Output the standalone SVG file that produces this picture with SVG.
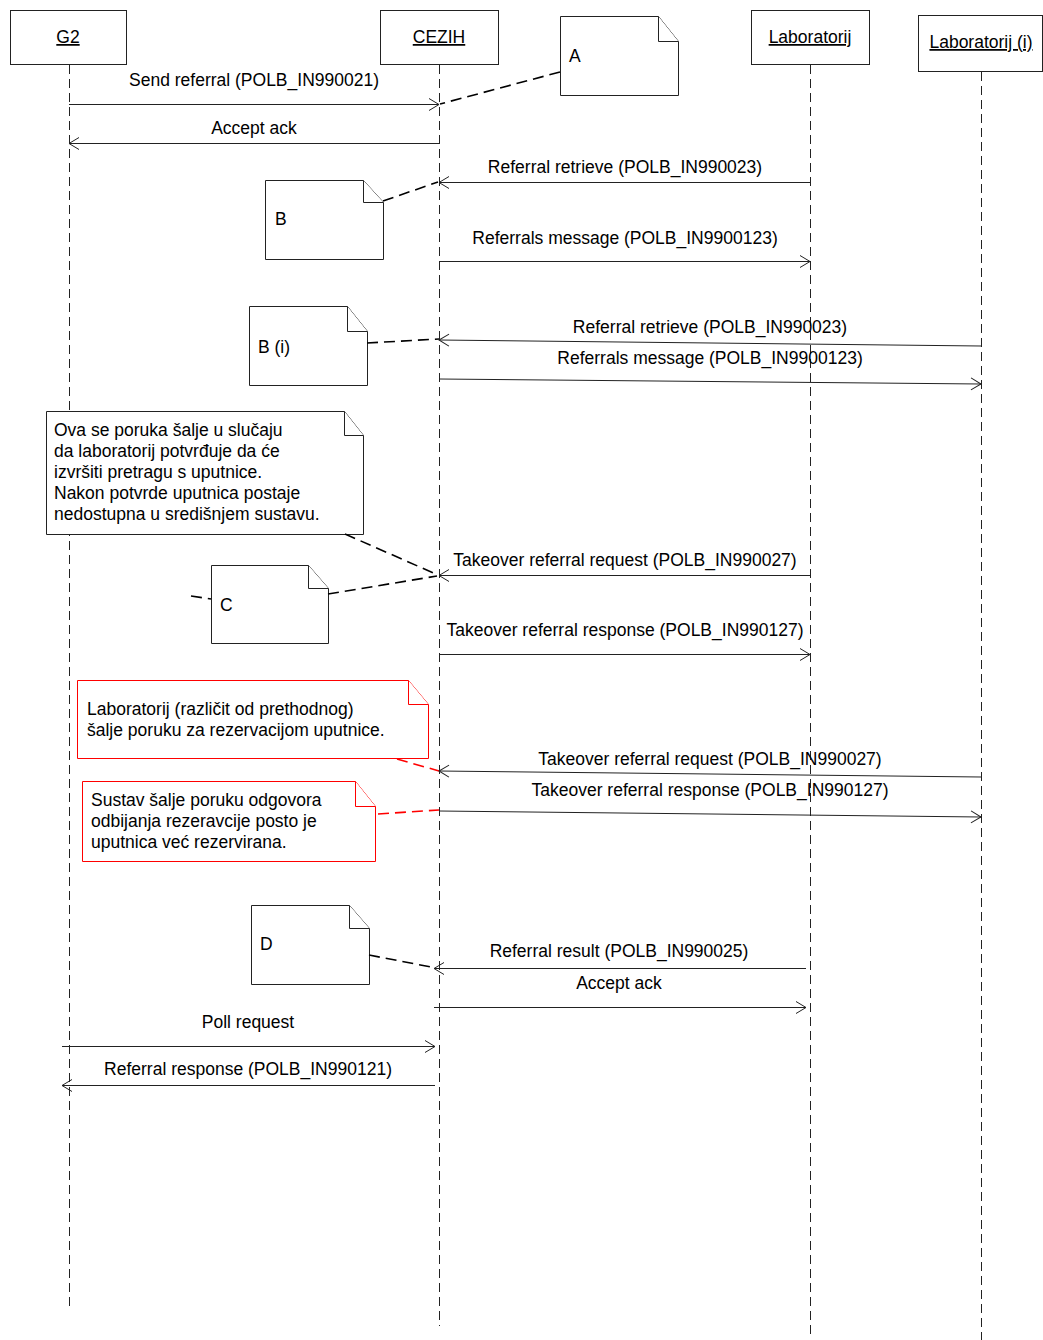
<svg xmlns="http://www.w3.org/2000/svg" width="1043" height="1340" viewBox="0 0 1043 1340">
<defs>
<style>
text{font-family:"Liberation Sans",Arial,sans-serif;font-size:17.5px;fill:#000}
.c{text-anchor:middle}
.u{text-decoration:underline}
.box{fill:#fff;stroke:#222;stroke-width:1}
.note{fill:#fff;stroke:#222;stroke-width:1}
.rnote{fill:#fff;stroke:#f00;stroke-width:1}
.life{stroke:#222;stroke-width:1;stroke-dasharray:9 5;fill:none}
.msg{stroke:#222;stroke-width:1;fill:none;marker-end:url(#ah)}
.link{stroke:#000;stroke-width:1.6;stroke-dasharray:11 6;fill:none}
.rlink{stroke:#f00;stroke-width:1.6;stroke-dasharray:11 6;fill:none}
</style>
<marker id="ah" viewBox="-11 -7 12 14" refX="0" refY="0" markerWidth="12" markerHeight="14" markerUnits="userSpaceOnUse" orient="auto">
<path d="M-10,-6 L0,0 L-10,6" fill="none" stroke="#222" stroke-width="1"/>
</marker>
</defs>
<rect width="1043" height="1340" fill="#fff"/>

<g id="lifelines">
<line class="life" x1="69.5" y1="65" x2="69.5" y2="1306"/>
<line class="life" x1="439.5" y1="65" x2="439.5" y2="1326"/>
<line class="life" x1="810.5" y1="65" x2="810.5" y2="1338"/>
<line class="life" x1="981.5" y1="72" x2="981.5" y2="1340"/>
</g>

<g id="G2"><rect class="box" x="10.5" y="10.5" width="116" height="54"/><text class="c u" x="68" y="43">G2</text></g>
<g id="CEZIH"><rect class="box" x="380.5" y="10.5" width="118" height="54"/><text class="c u" x="439" y="43">CEZIH</text></g>
<g id="Laboratorij"><rect class="box" x="751.5" y="10.5" width="118" height="54"/><text class="c u" x="810" y="43">Laboratorij</text></g>
<g id="Laboratorij_i"><rect class="box" x="918.5" y="15.5" width="124" height="56"/><text class="c u" x="981" y="48">Laboratorij (i)</text></g>

<g id="noteA"><path class="note" d="M560.5,16.5 H658.5 L678.5,41.5 V95.5 H560.5 Z"/><path class="note" d="M658.5,16.5 V41.5 H678.5"/><text x="569" y="62">A</text></g>
<g id="noteB"><path class="note" d="M265.5,180.5 H363.5 L383.5,202.5 V259.5 H265.5 Z"/><path class="note" d="M363.5,180.5 V202.5 H383.5"/><text x="275" y="225">B</text></g>
<g id="noteBi"><path class="note" d="M249.5,306.5 H347.5 L367.5,331.5 V385.5 H249.5 Z"/><path class="note" d="M347.5,306.5 V331.5 H367.5"/><text x="258" y="353">B (i)</text></g>
<g id="noteInfo"><path class="note" d="M46.5,411.5 H344.5 L363.5,435.5 V534.5 H46.5 Z"/><path class="note" d="M344.5,411.5 V435.5 H363.5"/>
<text x="54" y="436">Ova se poruka šalje u slučaju</text>
<text x="54" y="457">da laboratorij potvrđuje da će</text>
<text x="54" y="478">izvršiti pretragu s uputnice.</text>
<text x="54" y="499">Nakon potvrde uputnica postaje</text>
<text x="54" y="520">nedostupna u središnjem sustavu.</text></g>
<g id="noteC"><path class="note" d="M211.5,565.5 H308.5 L328.5,588.5 V643.5 H211.5 Z"/><path class="note" d="M308.5,565.5 V588.5 H328.5"/><text x="220" y="611">C</text></g>
<g id="noteRed1"><path class="rnote" d="M77.5,680.5 H408.5 L428.5,704.5 V758.5 H77.5 Z"/><path class="rnote" d="M408.5,680.5 V704.5 H428.5"/>
<text x="87" y="715">Laboratorij (različit od prethodnog)</text>
<text x="87" y="736">šalje poruku za rezervacijom uputnice.</text></g>
<g id="noteRed2"><path class="rnote" d="M82.5,781.5 H355.5 L375.5,806.5 V861.5 H82.5 Z"/><path class="rnote" d="M355.5,781.5 V806.5 H375.5"/>
<text x="91" y="806">Sustav šalje poruku odgovora</text>
<text x="91" y="827">odbijanja rezeravcije posto je</text>
<text x="91" y="848">uputnica već rezervirana.</text></g>
<g id="noteD"><path class="note" d="M251.5,905.5 H349.5 L369.5,928.5 V984.5 H251.5 Z"/><path class="note" d="M349.5,905.5 V928.5 H369.5"/><text x="260" y="950">D</text></g>

<g id="connectors">
<line class="link" x1="560" y1="72" x2="440" y2="104"/>
<line class="link" x1="383" y1="201" x2="438" y2="182"/>
<line class="link" x1="367" y1="343" x2="439" y2="339"/>
<line class="link" x1="345" y1="534" x2="438" y2="575"/>
<line class="link" x1="328" y1="594" x2="437" y2="576"/>
<line class="link" x1="191" y1="596" x2="211" y2="599"/>
<line class="rlink" x1="397" y1="759" x2="439" y2="771"/>
<line class="rlink" x1="378" y1="814" x2="439" y2="810"/>
<line class="link" x1="369" y1="955" x2="436" y2="968"/>

<line class="msg" x1="69" y1="104.5" x2="439" y2="104.5"/>
<line class="msg" x1="439" y1="143.5" x2="69" y2="143.5"/>
<line class="msg" x1="810" y1="182.5" x2="439" y2="182.5"/>
<line class="msg" x1="439" y1="261.5" x2="810" y2="261.5"/>
<line class="msg" x1="981" y1="346" x2="439" y2="340"/>
<line class="msg" x1="439" y1="379" x2="981" y2="384"/>
<line class="msg" x1="810" y1="575.5" x2="439" y2="575.5"/>
<line class="msg" x1="439" y1="654.5" x2="810" y2="654.5"/>
<line class="msg" x1="981" y1="777" x2="439" y2="771"/>
<line class="msg" x1="439" y1="811" x2="981" y2="817"/>
<line class="msg" x1="806" y1="968.5" x2="434" y2="968.5"/>
<line class="msg" x1="434" y1="1007.5" x2="806" y2="1007.5"/>
<line class="msg" x1="62" y1="1046.5" x2="435" y2="1046.5"/>
<line class="msg" x1="435" y1="1085.5" x2="62" y2="1085.5"/>

<text class="c" x="254" y="86">Send referral (POLB_IN990021)</text>
<text class="c" x="254" y="134">Accept ack</text>
<text class="c" x="625" y="173">Referral retrieve (POLB_IN990023)</text>
<text class="c" x="625" y="244">Referrals message (POLB_IN9900123)</text>
<text class="c" x="710" y="333">Referral retrieve (POLB_IN990023)</text>
<text class="c" x="710" y="364">Referrals message (POLB_IN9900123)</text>
<text class="c" x="625" y="566">Takeover referral request (POLB_IN990027)</text>
<text class="c" x="625" y="636">Takeover referral response (POLB_IN990127)</text>
<text class="c" x="710" y="765">Takeover referral request (POLB_IN990027)</text>
<text class="c" x="710" y="796">Takeover referral response (POLB_IN990127)</text>
<text class="c" x="619" y="957">Referral result (POLB_IN990025)</text>
<text class="c" x="619" y="989">Accept ack</text>
<text class="c" x="248" y="1028">Poll request</text>
<text class="c" x="248" y="1075">Referral response (POLB_IN990121)</text>
</g>
</svg>
